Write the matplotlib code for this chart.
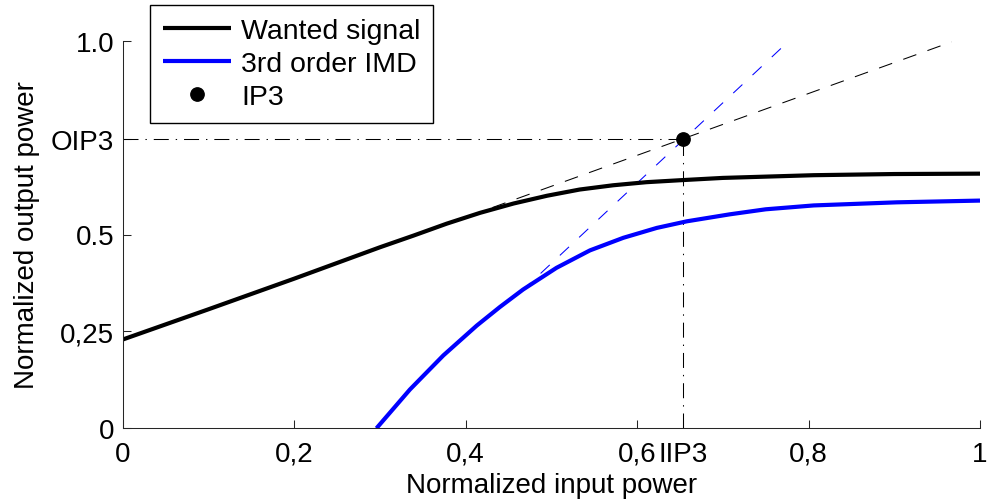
import matplotlib
matplotlib.use("Agg")
import matplotlib.pyplot as plt

plt.rcParams['font.family'] = ['Liberation Sans', 'DejaVu Sans']
plt.rcParams['lines.scale_dashes'] = False

# Data
wanted_x = [0.0, 0.1, 0.2, 0.3, 0.339, 0.378, 0.417, 0.456, 0.495, 0.533, 0.572, 0.611, 0.65, 0.7, 0.806, 0.9, 1.0]
wanted_y = [0.229, 0.307, 0.386, 0.467, 0.497, 0.528, 0.556, 0.580, 0.600, 0.616, 0.627, 0.635, 0.640, 0.646, 0.653, 0.656, 0.657]

imd_x = [0.296, 0.335, 0.374, 0.413, 0.440, 0.467, 0.506, 0.545, 0.584, 0.623, 0.658, 0.708, 0.75, 0.806, 0.903, 1.0]
imd_y = [0.0, 0.100, 0.188, 0.265, 0.313, 0.358, 0.414, 0.459, 0.4915, 0.517, 0.534, 0.552, 0.565, 0.575, 0.583, 0.5875]

wanted_ext_x = [0.403, 0.967]
wanted_ext_y = [0.547, 0.997]
imd_ext_x = [0.465, 0.776]
imd_ext_y = [0.353, 0.997]

iip3 = 0.654
oip3 = 0.746

x_ticks = [0, 0.2, 0.4, 0.6, iip3, 0.8, 1.0]
x_ticklabels = ['0', '0,2', '0,4', '0,6', 'IIP3', '0,8', '1']
y_ticks = [0, 0.25, 0.5, oip3, 1.0]
y_ticklabels = ['0', '0,25', '0.5', 'OIP3', '1.0']

fig = plt.figure(figsize=(9.9, 5.02), dpi=100)
ax = fig.add_axes([122.7/990, 1-429.3/502, (980-122.7)/990, (429.3-41.7)/502])

dashdot = (0, (10.8, 5.0, 1.0, 5.0))
ax.plot([0, iip3], [oip3, oip3], color='black', lw=0.75, linestyle=dashdot)
ax.plot([iip3, iip3], [0, oip3], color='black', lw=0.75, linestyle=dashdot)

ax.plot(wanted_ext_x, wanted_ext_y, color='black', lw=0.75, linestyle=(0, (10, 8.5)))
ax.plot(imd_ext_x, imd_ext_y, color='blue', lw=0.75, linestyle=(0, (9, 10)))

l1, = ax.plot(wanted_x, wanted_y, color='black', lw=3, label='Wanted signal',
              solid_capstyle='butt', solid_joinstyle='round')
l2, = ax.plot(imd_x, imd_y, color='blue', lw=3, label='3rd order IMD',
              solid_capstyle='butt', solid_joinstyle='round')
l3, = ax.plot([iip3], [oip3], 'o', color='black', markersize=9.6, label='IP3', linestyle='none')

ax.set_xlim(0, 1)
ax.set_ylim(0, 1.0)
ax.set_xticks(x_ticks)
ax.set_xticklabels(x_ticklabels)
ax.set_yticks(y_ticks)
ax.set_yticklabels(y_ticklabels)
ax.tick_params(direction='in', length=6, width=0.75, labelsize=20, color='#262626')
ax.tick_params(axis='y', pad=6)
ax.tick_params(axis='x', pad=9)
for s in ['top', 'right']:
    ax.spines[s].set_visible(False)
for s in ['left', 'bottom']:
    ax.spines[s].set_linewidth(0.75)
    ax.spines[s].set_color('#262626')

ax.set_xlabel('Normalized input power', fontsize=20, labelpad=4)
ax.set_ylabel('Normalized output power', fontsize=20, labelpad=8)

leg = fig.legend(handles=[l1, l2, l3], loc='upper left',
                 bbox_to_anchor=(150/990, 1-5.7/502), bbox_transform=fig.transFigure,
                 fontsize=20.5, frameon=True, fancybox=False, borderaxespad=0,
                 handlelength=2.4, handletextpad=0.35, labelspacing=0.25,
                 borderpad=0.45, numpoints=1)
leg.get_frame().set_edgecolor('black')
leg.get_frame().set_linewidth(1.0)
leg.get_frame().set_alpha(1.0)

fig.savefig('out.png', dpi=100)
